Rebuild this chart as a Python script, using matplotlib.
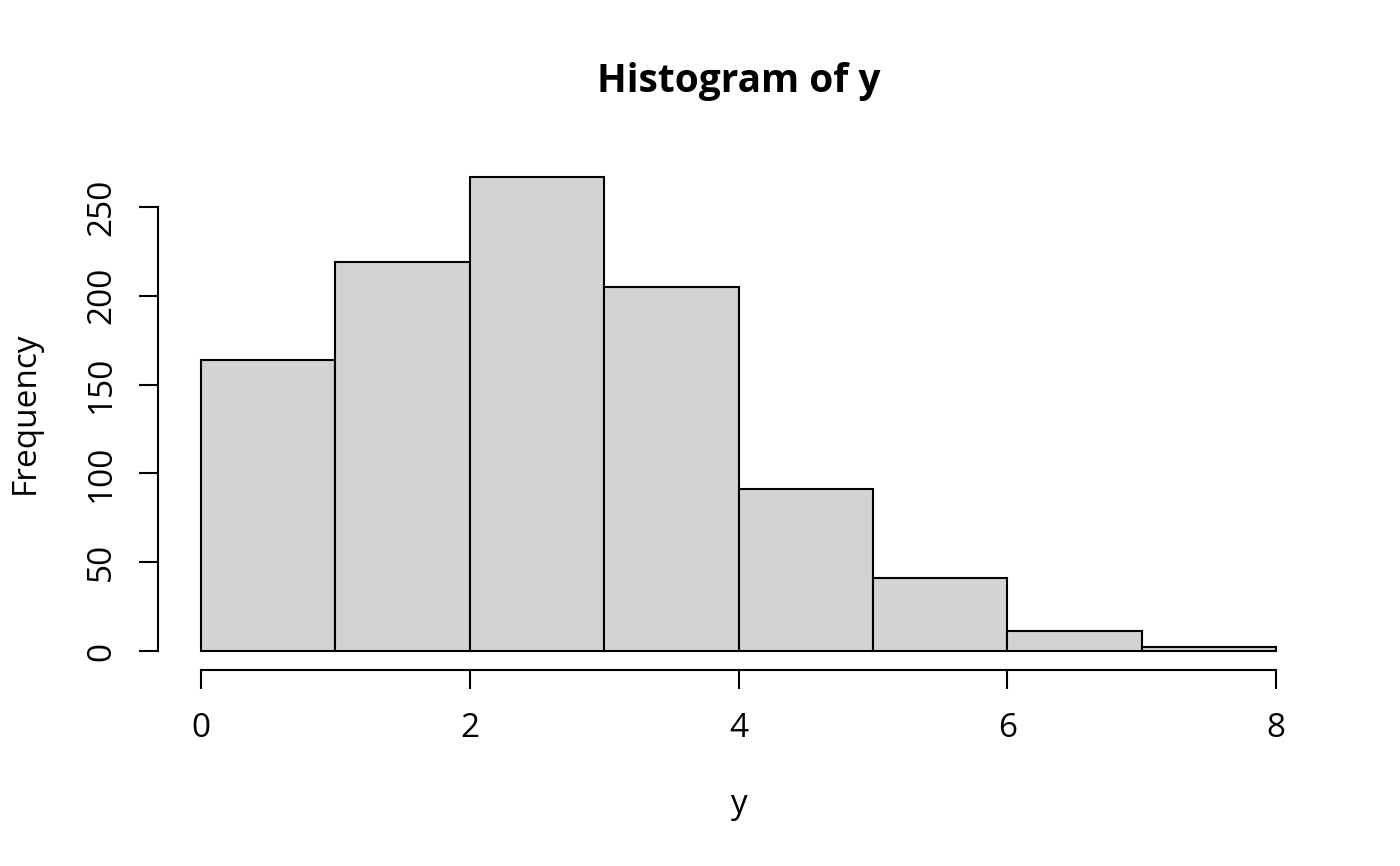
import matplotlib
matplotlib.use("Agg")
import matplotlib.pyplot as plt

bin_edges = [0, 1, 2, 3, 4, 5, 6, 7, 8]
counts = [164, 219, 267, 205, 91, 41, 11, 2]
xticks = [0, 2, 4, 6, 8]
yticks = [0, 50, 100, 150, 200, 250]
title = "Histogram of y"
xlabel = "y"
ylabel = "Frequency"

plt.rcParams['font.family'] = ['Open Sans', 'DejaVu Sans']

W, H = 1400, 866
fig = plt.figure(figsize=(W / 100, H / 100), dpi=100)
px = 0.72  # points per pixel

ax_left, ax_right = 201, 1276
ax_bottom = 651
ytop = 270
ppu = 1.776
ax = fig.add_axes([ax_left / W, (H - ax_bottom) / H, (ax_right - ax_left) / W, ytop * ppu / H])

lefts = bin_edges[:-1]
widths = [b - a for a, b in zip(bin_edges[:-1], bin_edges[1:])]
bars = ax.bar(lefts, counts, width=widths, align='edge', color='#d3d3d3',
              edgecolor='black', linewidth=1.5)
for b in bars:
    b.set_clip_on(False)

ax.set_xlim(0, 8)
ax.set_ylim(0, ytop)
ax.set_facecolor('none')
for s in ('top', 'right'):
    ax.spines[s].set_visible(False)
ax.spines['left'].set_position(('outward', 43 * px))
ax.spines['bottom'].set_position(('outward', 19 * px))
ax.spines['left'].set_bounds(0, 250)
ax.spines['bottom'].set_bounds(0, 8)
for s in ('left', 'bottom'):
    ax.spines[s].set_linewidth(1.5)
    ax.spines[s].set_capstyle('projecting')

ax.set_xticks(xticks)
ax.set_yticks(yticks)
ax.set_xticklabels([str(v) for v in xticks])
ax.set_yticklabels([str(v) for v in yticks])
ax.tick_params(axis='both', length=19 * px, width=1.5, labelsize=24, color='black')
ax.tick_params(axis='x', pad=16.5)
ax.tick_params(axis='y', pad=15, labelrotation=90)
for lab in ax.get_yticklabels():
    lab.set_va('center')

fig.text(739 / W, 1 - 92 / H, title, ha='center', va='baseline', fontsize=28, fontweight='bold')
fig.text(738 / W, 1 - 813 / H, xlabel, ha='center', va='baseline', fontsize=24)
fig.text(34 / W, 1 - 413 / H, ylabel, ha='center', va='baseline', rotation=90,
         rotation_mode='anchor', fontsize=24)

fig.savefig("out.png", dpi=100)
